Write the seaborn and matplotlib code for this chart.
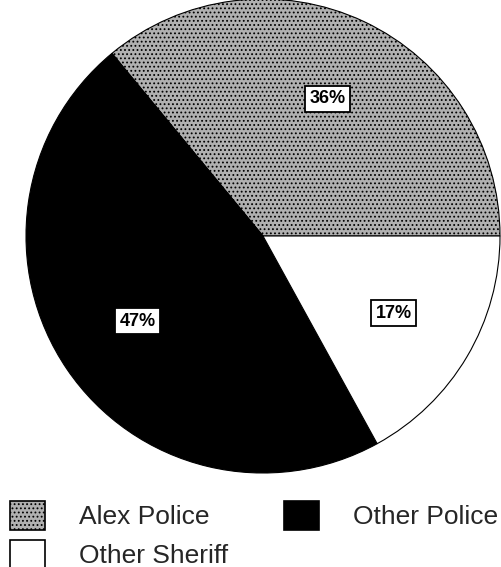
import matplotlib
matplotlib.use("Agg")
import matplotlib.pyplot as plt
import seaborn as sns
import numpy as np

categories = ["Alex Police", "Other Police", "Other Sheriff"]
values = [36, 47, 17]
pct_labels = ["36%", "47%", "17%"]
colors = ["#b0b0b0", "#000000", "#ffffff"]

sns.set_theme(style="white")
plt.rcParams['font.family'] = ['Liberation Sans', 'DejaVu Sans']
plt.rcParams['hatch.linewidth'] = 0.8

fig = plt.figure(figsize=(5.01, 5.67), dpi=100)
ax = fig.add_axes([26/501, 94/567, 474/501, 474/567])

wedges, _ = ax.pie(values, colors=colors, startangle=0, counterclock=True,
                   wedgeprops=dict(edgecolor="black", linewidth=0.8))
wedges[0].set_hatch("....")

start = 0.0
for v, lab in zip(values, pct_labels):
    mid = np.deg2rad(start + v * 3.6 / 2)
    start += v * 3.6
    r = 0.64
    ax.text(r*np.cos(mid), r*np.sin(mid), lab, ha="center", va="center",
            fontsize=13, fontweight="bold", color="black",
            bbox=dict(boxstyle="square,pad=0.25", fc="white", ec="black", lw=1.3))
ax.set_aspect("equal")
ax.set_xlim(-1.0, 1.0)
ax.set_ylim(-1.0, 1.0)

# row-wise legend order: Alex Police, Other Police / Other Sheriff
order = [0, 2, 1]
leg = fig.legend([wedges[i] for i in order], [categories[i] for i in order],
                 loc="upper left", bbox_to_anchor=(10/501, 1 - 501/567),
                 borderaxespad=0, borderpad=0,
                 ncol=2, frameon=False, fontsize=19, handlelength=1.33, handleheight=1.3,
                 handletextpad=1.3, columnspacing=2.1, labelspacing=0.38)
for h in leg.legend_handles:
    h.set_linewidth(1.2)
fig.savefig("out.png", dpi=100)
